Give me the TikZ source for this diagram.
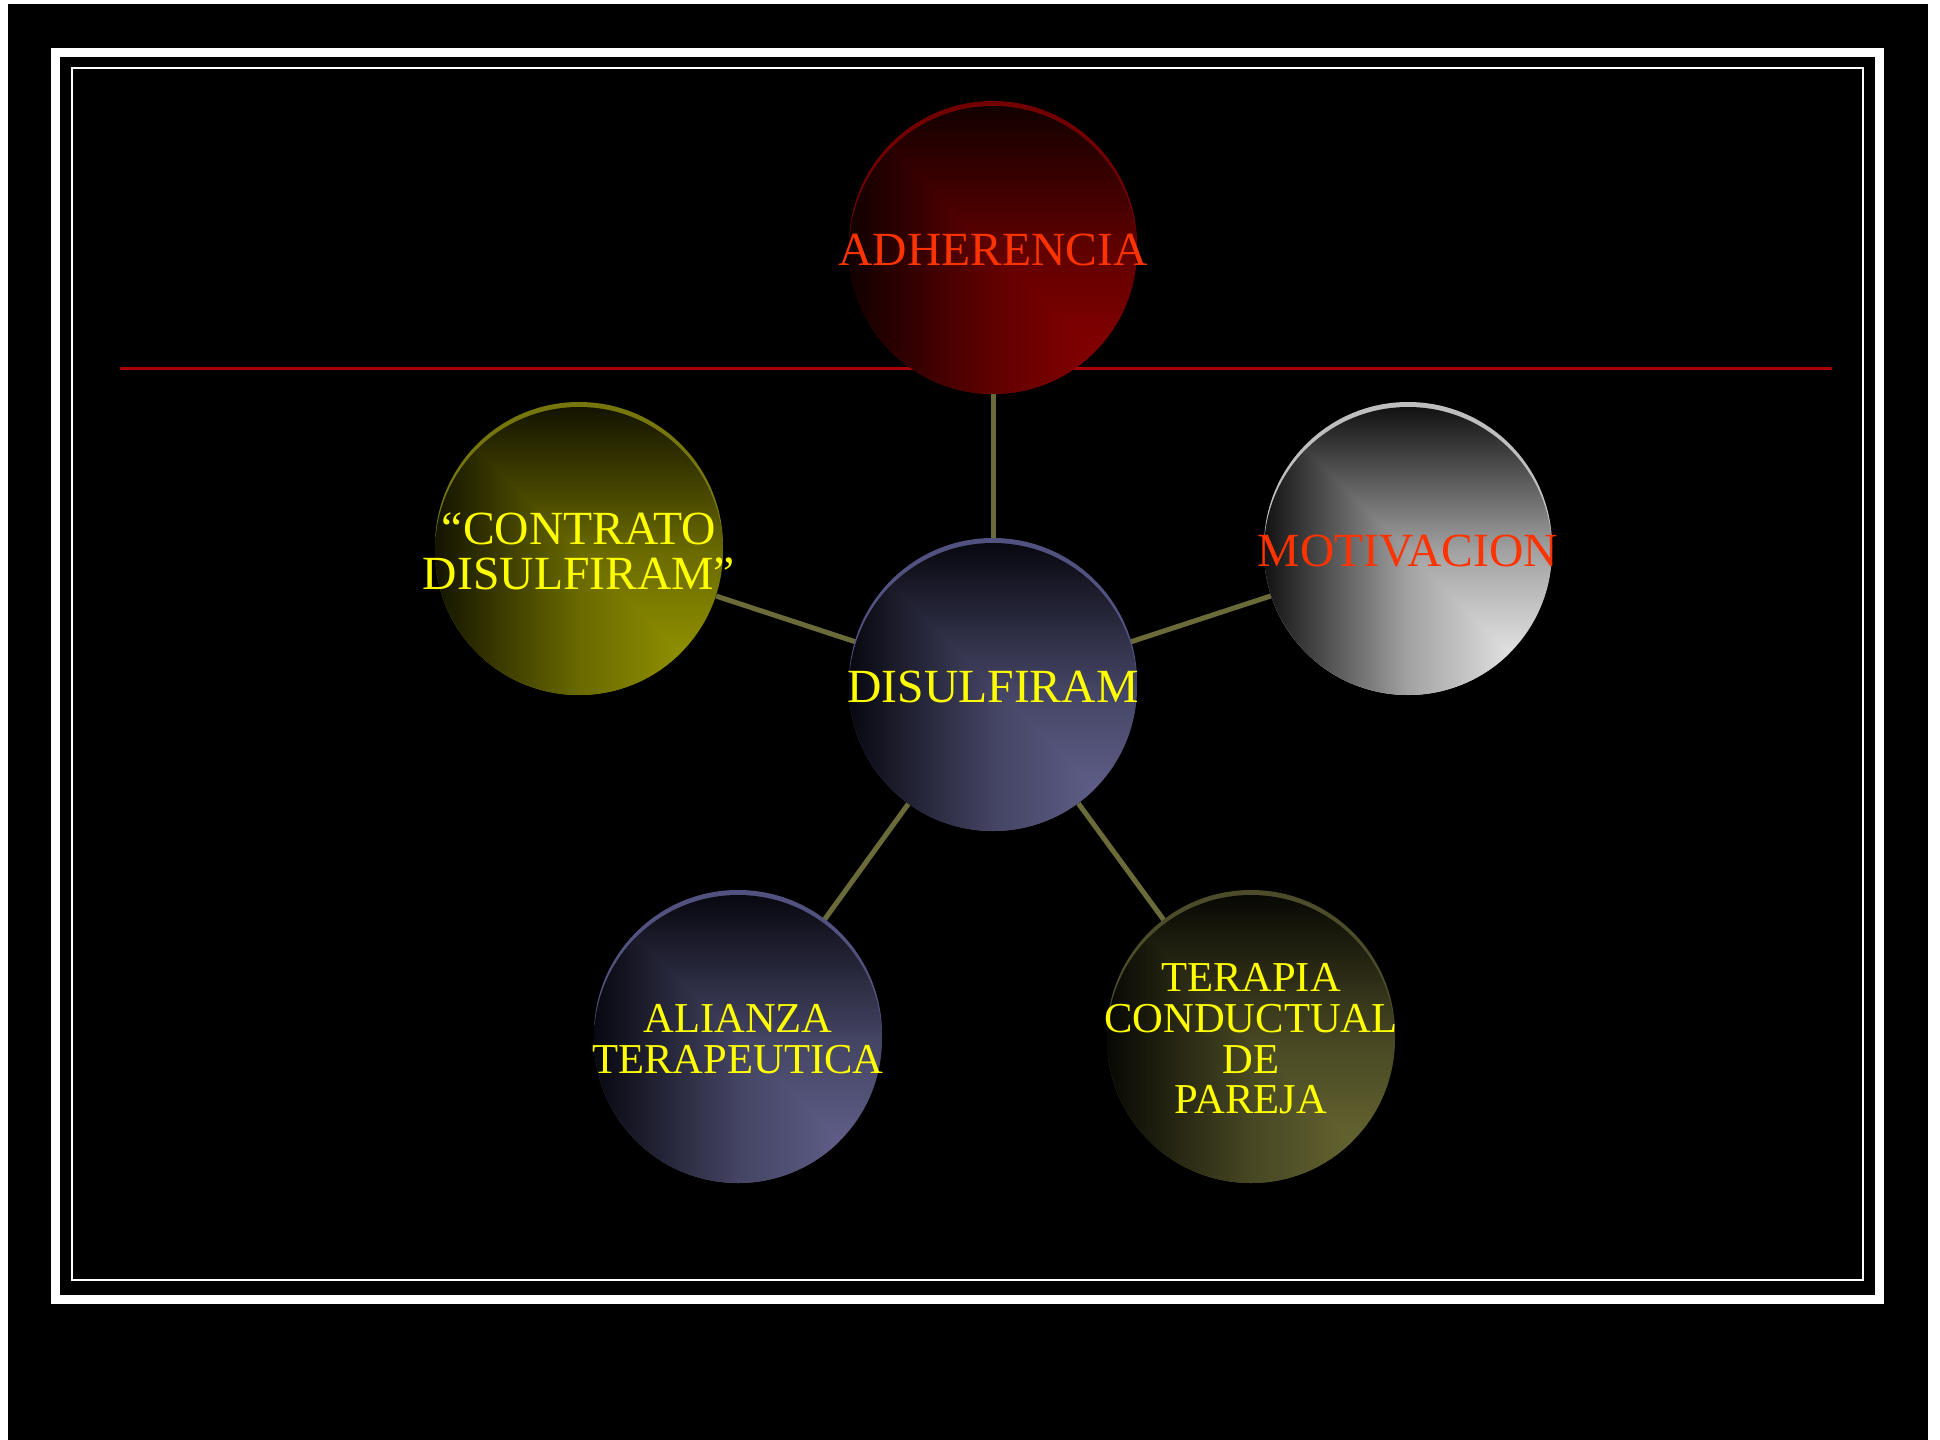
\documentclass[tikz,border=0pt]{standalone}
\usepackage{fontspec}
\setmainfont{Liberation Serif}
\usepackage{xcolor}
\usetikzlibrary{backgrounds}
\definecolor{linkolive}{RGB}{107,107,58}
\definecolor{rulered}{RGB}{170,0,0}
\definecolor{txtyellow}{RGB}{255,255,0}
\definecolor{txtred}{RGB}{255,51,0}
\definecolor{redDark}{RGB}{18,0,0}
\definecolor{redLight}{RGB}{145,0,0}
\definecolor{redRim}{RGB}{115,0,0}
\definecolor{greyDark}{RGB}{18,18,18}
\definecolor{greyLight}{RGB}{250,250,250}
\definecolor{greyRim}{RGB}{190,190,190}
\definecolor{oliveDark}{RGB}{20,20,0}
\definecolor{oliveLight}{RGB}{158,158,0}
\definecolor{oliveRim}{RGB}{118,118,12}
\definecolor{mossDark}{RGB}{8,8,4}
\definecolor{mossLight}{RGB}{110,110,54}
\definecolor{mossRim}{RGB}{76,76,42}
\definecolor{slateDark}{RGB}{8,8,16}
\definecolor{slateLight}{RGB}{104,104,150}
\definecolor{slateRim}{RGB}{82,82,128}
\tikzset{
  ball/.style n args={3}{circle, minimum size=144pt, inner sep=0pt,
    preaction={fill=#3, transform canvas={yshift=2.5pt}},
    path picture={
      \shade[top color=#1, bottom color=#2, middle color=#2!62!#1] (path picture bounding box.north west) rectangle (path picture bounding box.south east);
      \shade[left color=#1, right color=#2, middle color=#2!62!#1] (path picture bounding box.north west) -- (path picture bounding box.south west) -- (path picture bounding box.south east) -- cycle;
    }},
  balltext/.style={align=center, inner sep=0pt, text=txtyellow, font=\fontsize{23.8}{22.5}\selectfont},
  smalltext/.style={balltext, font=\fontsize{21.3}{20.3}\selectfont},
  link/.style={draw=linkolive, line width=2.5pt},
  frame/.style={draw=white, line width=4.5pt},
  thinframe/.style={draw=white, line width=1pt}
}
\begin{document}
\begin{tikzpicture}[x=0.5pt, y=-0.5pt]
  \useasboundingbox (0,0) rectangle (1940,1440);

  \node[ball={redDark}{redLight}{redRim}] (adh) at (993,250) {};
  \node[ball={greyDark}{greyLight}{greyRim}] (mot) at (1408,551) {};
  \node[ball={oliveDark}{oliveLight}{oliveRim}] (con) at (579,551) {};
  \node[ball={slateDark}{slateLight}{slateRim}] (dis) at (993,687) {};
  \node[ball={slateDark}{slateLight}{slateRim}] (ali) at (738,1039) {};
  \node[ball={mossDark}{mossLight}{mossRim}] (ter) at (1251,1039) {};

  \node[balltext, text=txtred] (adh-txt) at (adh) {ADHERENCIA};
  \node[balltext, text=txtred] (mot-txt) at (mot) {MOTIVACION};
  \node[balltext] (con-txt) at (con) {``CONTRATO\\DISULFIRAM''};
  \node[balltext] (dis-txt) at (dis) {DISULFIRAM};
  \node[smalltext] (ali-txt) at (ali) {ALIANZA\\TERAPEUTICA};
  \node[smalltext] (ter-txt) at (ter) {TERAPIA\\CONDUCTUAL\\DE\\PAREJA};

  \coordinate (rule-l) at (120,368);
  \coordinate (rule-r) at (1832,368);

  \begin{scope}[on background layer]
    \fill[white] (0,0) rectangle (1940,1440);
    \fill[black] (8,4) rectangle (1928,1440);
    \draw[frame] (55.5,52) rectangle (1879.5,1299.5);
    \draw[thinframe] (72,68) rectangle (1863,1280);
    \draw[rulered, line width=1.5pt] (rule-l) -- (rule-r);
    \draw[link] (dis) -- (adh);
    \draw[link] (dis) -- (mot);
    \draw[link] (dis) -- (con);
    \draw[link] (dis) -- (ali);
    \draw[link] (dis) -- (ter);
  \end{scope}
\end{tikzpicture}
\end{document}
